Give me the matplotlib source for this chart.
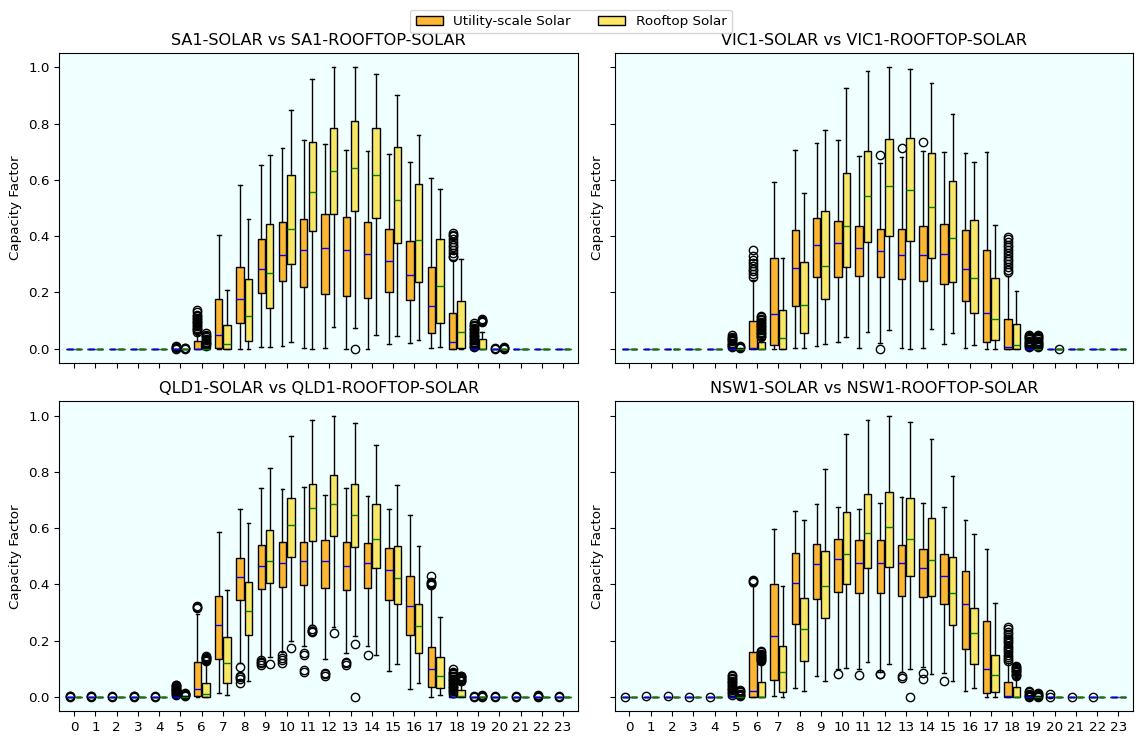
import numpy as np
import matplotlib
matplotlib.use('Agg')
import matplotlib.pyplot as plt
from matplotlib.patches import Patch
from matplotlib.colors import to_rgba

plt.rcParams['font.size'] = 9.7

# Hourly capacity factor box stats
hours = np.arange(24)
hour_labels = [str(h) for h in hours]

# ---- SA1 ----
sa1_util_q1 = [0, 0, 0, 0, 0, 0, 0, 0.003, 0.09, 0.197, 0.24, 0.218, 0.196, 0.189, 0.181, 0.2, 0.174, 0.057, 0, 0, 0, 0, 0, 0]
sa1_util_med = [0, 0, 0, 0, 0, 0, 0, 0.05, 0.178, 0.285, 0.334, 0.352, 0.357, 0.35, 0.335, 0.31, 0.263, 0.153, 0.025, 0, 0, 0, 0, 0]
sa1_util_q3 = [0, 0, 0, 0, 0, 0, 0.027, 0.178, 0.292, 0.391, 0.452, 0.461, 0.477, 0.469, 0.452, 0.425, 0.384, 0.292, 0.128, 0.01, 0, 0, 0, 0]
sa1_util_lo = [0, 0, 0, 0, 0, 0, 0, 0, 0, 0.005, 0.01, 0.004, 0.004, 0, 0, 0.015, 0.022, 0.004, 0, 0, 0, 0, 0, 0]
sa1_util_hi = [0, 0, 0, 0, 0, 0, 0.05, 0.403, 0.581, 0.652, 0.715, 0.742, 0.728, 0.707, 0.702, 0.693, 0.665, 0.605, 0.315, 0.01, 0, 0, 0, 0]
sa1_util_fliers = {
    5: [0.0, 0.002, 0.004, 0.006, 0.008],
    6: [0.06, 0.065, 0.07, 0.075, 0.08, 0.085, 0.09, 0.095, 0.1, 0.105, 0.11, 0.115, 0.12, 0.13, 0.137],
    18: [0.325, 0.33, 0.34, 0.35, 0.36, 0.37, 0.38, 0.39, 0.4, 0.405, 0.41],
    19: [0.005, 0.01, 0.015, 0.02, 0.025, 0.03, 0.035, 0.04, 0.045, 0.05, 0.055, 0.06, 0.065, 0.07, 0.075, 0.08, 0.085, 0.09],
    20: [0.0, 0.002]}

sa1_roof_q1 = [0, 0, 0, 0, 0, 0, 0, 0, 0.028, 0.146, 0.302, 0.418, 0.477, 0.491, 0.463, 0.374, 0.237, 0.09, 0.003, 0, 0, 0, 0, 0]
sa1_roof_med = [0, 0, 0, 0, 0, 0, 0, 0.015, 0.115, 0.269, 0.427, 0.557, 0.632, 0.643, 0.618, 0.527, 0.388, 0.222, 0.06, 0, 0, 0, 0, 0]
sa1_roof_q3 = [0, 0, 0, 0, 0, 0, 0.003, 0.083, 0.247, 0.445, 0.619, 0.735, 0.785, 0.808, 0.783, 0.718, 0.584, 0.389, 0.17, 0.035, 0, 0, 0, 0]
sa1_roof_lo = [0, 0, 0, 0, 0, 0, 0, 0, 0, 0.005, 0.025, 0, 0.078, 0.075, 0.05, 0.046, 0.03, 0.006, 0, 0, 0, 0, 0, 0]
sa1_roof_hi = [0, 0, 0, 0, 0, 0, 0.008, 0.208, 0.46, 0.69, 0.85, 0.957, 1.0, 1.0, 0.978, 0.903, 0.76, 0.567, 0.318, 0.06, 0, 0, 0, 0]
sa1_roof_fliers = {
    5: [0.0, 0.002, 0.004],
    6: [0.01, 0.015, 0.02, 0.025, 0.03, 0.035, 0.04, 0.045, 0.05, 0.055],
    13: [0.0],
    19: [0.095, 0.098, 0.1, 0.103, 0.105],
    20: [0.0, 0.002, 0.004, 0.006]}

# ---- VIC1 ----
vic1_util_q1 = [0, 0, 0, 0, 0, 0, 0, 0.012, 0.153, 0.256, 0.254, 0.26, 0.256, 0.246, 0.242, 0.23, 0.171, 0.025, 0, 0, 0, 0, 0, 0]
vic1_util_med = [0, 0, 0, 0, 0, 0, 0.003, 0.125, 0.288, 0.37, 0.374, 0.359, 0.349, 0.333, 0.333, 0.338, 0.282, 0.128, 0.005, 0, 0, 0, 0, 0]
vic1_util_q3 = [0, 0, 0, 0, 0, 0.002, 0.098, 0.324, 0.423, 0.463, 0.453, 0.437, 0.426, 0.426, 0.437, 0.444, 0.423, 0.352, 0.107, 0.002, 0, 0, 0, 0]
vic1_util_lo = [0, 0, 0, 0, 0, 0, 0, 0, 0.003, 0.01, 0.025, 0.003, 0.02, 0.003, 0.003, 0.018, 0.003, 0, 0, 0, 0, 0, 0, 0]
vic1_util_hi = [0, 0, 0, 0, 0, 0.004, 0.245, 0.591, 0.705, 0.73, 0.74, 0.685, 0.66, 0.682, 0.702, 0.7, 0.696, 0.7, 0.26, 0.004, 0, 0, 0, 0]
vic1_util_fliers = {
    5: [0.006, 0.01, 0.014, 0.018, 0.022, 0.026, 0.03, 0.034, 0.038, 0.042, 0.047],
    6: [0.255, 0.265, 0.275, 0.285, 0.295, 0.305, 0.315, 0.33, 0.35],
    12: [0.0, 0.687], 13: [0.715], 14: [0.735],
    18: [0.273, 0.28, 0.29, 0.3, 0.31, 0.32, 0.33, 0.34, 0.35, 0.36, 0.37, 0.38, 0.39, 0.397],
    19: [0.005, 0.009, 0.013, 0.017, 0.021, 0.025, 0.029, 0.033, 0.037, 0.041, 0.045, 0.05]}

vic1_roof_q1 = [0, 0, 0, 0, 0, 0, 0, 0, 0.057, 0.178, 0.292, 0.381, 0.399, 0.384, 0.324, 0.238, 0.126, 0.03, 0, 0, 0, 0, 0, 0]
vic1_roof_med = [0, 0, 0, 0, 0, 0, 0, 0.039, 0.155, 0.293, 0.435, 0.541, 0.577, 0.564, 0.502, 0.395, 0.25, 0.107, 0.012, 0, 0, 0, 0, 0]
vic1_roof_q3 = [0, 0, 0, 0, 0, 0, 0.024, 0.139, 0.308, 0.488, 0.625, 0.701, 0.744, 0.749, 0.696, 0.597, 0.458, 0.253, 0.089, 0.002, 0, 0, 0, 0]
vic1_roof_lo = [0, 0, 0, 0, 0, 0, 0, 0, 0.003, 0.018, 0.04, 0.06, 0.067, 0, 0.07, 0.055, 0.013, 0, 0, 0, 0, 0, 0, 0]
vic1_roof_hi = [0, 0, 0, 0, 0, 0.002, 0.035, 0.323, 0.555, 0.779, 0.925, 0.986, 1.0, 0.995, 0.943, 0.834, 0.662, 0.44, 0.205, 0.004, 0, 0, 0, 0]
vic1_roof_fliers = {
    5: [0.003, 0.006, 0.009],
    6: [0.041, 0.046, 0.051, 0.056, 0.061, 0.066, 0.071, 0.076, 0.081, 0.086, 0.091, 0.096, 0.101, 0.106, 0.112, 0.118],
    19: [0.005, 0.009, 0.013, 0.017, 0.021, 0.025, 0.029, 0.033, 0.037, 0.041, 0.045, 0.05],
    20: [0.0]}

# ---- QLD1 ----
qld1_util_q1 = [0, 0, 0, 0, 0, 0, 0.005, 0.135, 0.344, 0.383, 0.392, 0.397, 0.387, 0.379, 0.387, 0.346, 0.22, 0.035, 0, 0, 0, 0, 0, 0]
qld1_util_med = [0, 0, 0, 0, 0, 0, 0.028, 0.255, 0.426, 0.467, 0.475, 0.482, 0.482, 0.467, 0.475, 0.45, 0.323, 0.098, 0, 0, 0, 0, 0, 0]
qld1_util_q3 = [0, 0, 0, 0, 0, 0.003, 0.123, 0.357, 0.495, 0.541, 0.55, 0.55, 0.557, 0.55, 0.546, 0.528, 0.431, 0.178, 0.013, 0, 0, 0, 0, 0]
qld1_util_lo = [0, 0, 0, 0, 0, 0, 0, 0.015, 0.12, 0.14, 0.16, 0.18, 0.135, 0.155, 0.18, 0.093, 0.028, 0, 0, 0, 0, 0, 0, 0]
qld1_util_hi = [0, 0, 0, 0, 0, 0.005, 0.293, 0.585, 0.667, 0.742, 0.74, 0.745, 0.717, 0.742, 0.713, 0.667, 0.645, 0.39, 0.018, 0, 0, 0, 0, 0]
qld1_util_fliers = {
    0: [0.0, 0.002, 0.004], 1: [0.0, 0.002, 0.004], 2: [0.0, 0.003], 3: [0.0, 0.002, 0.004], 4: [0.0, 0.003],
    5: [0.008, 0.011, 0.014, 0.017, 0.02, 0.023, 0.026, 0.029, 0.032, 0.035, 0.038, 0.041, 0.044],
    6: [0.316, 0.319, 0.322],
    8: [0.05, 0.065, 0.07, 0.075, 0.107], 9: [0.115, 0.12, 0.125, 0.13], 10: [0.12, 0.13, 0.14, 0.15],
    11: [0.09, 0.095, 0.15, 0.157], 12: [0.073, 0.08, 0.085], 13: [0.115, 0.12, 0.125], 14: [0.15],
    17: [0.397, 0.4, 0.405, 0.41, 0.43],
    18: [0.015, 0.02, 0.025, 0.03, 0.035, 0.04, 0.045, 0.05, 0.055, 0.06, 0.065, 0.07, 0.075, 0.08, 0.085, 0.09, 0.1],
    19: [0.0, 0.002], 20: [0.0, 0.003], 21: [0.0, 0.002], 22: [0.0, 0.003, 0.005, 0.007], 23: [0.0, 0.003]}

qld1_roof_q1 = [0, 0, 0, 0, 0, 0, 0, 0.05, 0.22, 0.404, 0.496, 0.553, 0.571, 0.532, 0.457, 0.33, 0.155, 0.031, 0, 0, 0, 0, 0, 0]
qld1_roof_med = [0, 0, 0, 0, 0, 0, 0.01, 0.12, 0.305, 0.482, 0.61, 0.673, 0.685, 0.645, 0.56, 0.424, 0.252, 0.075, 0.003, 0, 0, 0, 0, 0]
qld1_roof_q3 = [0, 0, 0, 0, 0, 0.002, 0.05, 0.213, 0.41, 0.592, 0.706, 0.756, 0.787, 0.756, 0.684, 0.535, 0.33, 0.142, 0.025, 0, 0, 0, 0, 0]
qld1_roof_lo = [0, 0, 0, 0, 0, 0, 0, 0.007, 0.055, 0.142, 0.2, 0.255, 0.25, 0.215, 0.15, 0.117, 0.05, 0.007, 0, 0, 0, 0, 0, 0]
qld1_roof_hi = [0, 0, 0, 0, 0, 0.003, 0.12, 0.38, 0.617, 0.813, 0.929, 0.985, 1.0, 0.975, 0.897, 0.752, 0.535, 0.285, 0.045, 0, 0, 0, 0, 0]
qld1_roof_fliers = {
    5: [0.004, 0.006, 0.008, 0.01, 0.012, 0.015],
    6: [0.128, 0.131, 0.134, 0.137, 0.14, 0.143, 0.146],
    9: [0.118], 10: [0.175], 11: [0.23, 0.233, 0.236, 0.24], 12: [0.228], 13: [0.0, 0.188],
    18: [0.055, 0.058, 0.061, 0.064, 0.067, 0.07, 0.073, 0.076],
    19: [0.0, 0.002, 0.004, 0.006]}

# ---- NSW1 ----
nsw1_util_q1 = [0, 0, 0, 0, 0, 0, 0, 0.06, 0.26, 0.348, 0.372, 0.369, 0.369, 0.358, 0.355, 0.33, 0.17, 0.014, 0, 0, 0, 0, 0, 0]
nsw1_util_med = [0, 0, 0, 0, 0, 0, 0.02, 0.216, 0.404, 0.472, 0.49, 0.475, 0.475, 0.475, 0.457, 0.429, 0.33, 0.1, 0.003, 0, 0, 0, 0, 0]
nsw1_util_q3 = [0, 0, 0, 0, 0, 0.003, 0.16, 0.4, 0.511, 0.545, 0.56, 0.557, 0.557, 0.539, 0.527, 0.507, 0.447, 0.27, 0.052, 0.002, 0, 0, 0, 0]
nsw1_util_lo = [0, 0, 0, 0, 0, 0, 0, 0.003, 0.03, 0.076, 0.1, 0.1, 0.09, 0.09, 0.107, 0.085, 0.02, 0, 0, 0, 0, 0, 0, 0]
nsw1_util_hi = [0, 0, 0, 0, 0, 0.005, 0.395, 0.595, 0.66, 0.684, 0.674, 0.668, 0.688, 0.709, 0.69, 0.675, 0.63, 0.525, 0.12, 0.004, 0, 0, 0, 0]
nsw1_util_fliers = {
    0: [0.0], 1: [0.003], 2: [0.003], 3: [0.0], 4: [0.0],
    5: [0.008, 0.013, 0.018, 0.023, 0.028, 0.033, 0.038, 0.043, 0.048, 0.053, 0.058, 0.063, 0.068, 0.073, 0.079],
    6: [0.408, 0.411, 0.414],
    10: [0.08], 11: [0.078], 12: [0.08, 0.083], 13: [0.068, 0.075], 14: [0.065, 0.085], 15: [0.057],
    18: [0.126, 0.134, 0.142, 0.15, 0.158, 0.166, 0.174, 0.182, 0.19, 0.198, 0.206, 0.214, 0.222, 0.23, 0.24, 0.25],
    19: [0.0, 0.004, 0.008, 0.012, 0.016, 0.02], 20: [0.0, 0.01], 21: [0.0], 22: [0.0]}

nsw1_roof_q1 = [0, 0, 0, 0, 0, 0, 0, 0.018, 0.128, 0.28, 0.4, 0.457, 0.462, 0.429, 0.36, 0.255, 0.117, 0.018, 0, 0, 0, 0, 0, 0]
nsw1_roof_med = [0, 0, 0, 0, 0, 0, 0, 0.089, 0.242, 0.395, 0.508, 0.581, 0.604, 0.56, 0.485, 0.37, 0.227, 0.078, 0, 0, 0, 0, 0, 0]
nsw1_roof_q3 = [0, 0, 0, 0, 0, 0.002, 0.052, 0.181, 0.353, 0.518, 0.656, 0.72, 0.727, 0.706, 0.635, 0.496, 0.316, 0.149, 0.035, 0.002, 0, 0, 0, 0]
nsw1_roof_lo = [0, 0, 0, 0, 0, 0, 0, 0, 0.02, 0.055, 0.103, 0.123, 0.117, 0.099, 0.08, 0.055, 0.03, 0, 0, 0, 0, 0, 0, 0]
nsw1_roof_hi = [0, 0, 0, 0, 0, 0.004, 0.12, 0.393, 0.627, 0.81, 0.935, 0.985, 1.0, 0.977, 0.915, 0.785, 0.58, 0.335, 0.07, 0.003, 0, 0, 0, 0]
nsw1_roof_fliers = {
    5: [0.004, 0.008, 0.012, 0.016, 0.02, 0.025],
    6: [0.126, 0.13, 0.134, 0.138, 0.142, 0.146, 0.15, 0.154, 0.158, 0.162],
    13: [0.0],
    18: [0.075, 0.079, 0.083, 0.087, 0.091, 0.095, 0.099, 0.103, 0.107, 0.11],
    19: [0.0, 0.004, 0.008, 0.012, 0.015]}

UTIL_COLOR = to_rgba('orange', 0.8)
ROOF_COLOR = to_rgba('gold', 0.6)


def make_stats(q1, med, q3, lo, hi, fliers):
    stats = []
    for h in range(len(q1)):
        stats.append({'q1': q1[h], 'med': med[h], 'q3': q3[h],
                      'whislo': lo[h], 'whishi': hi[h],
                      'fliers': fliers.get(h, [])})
    return stats


panels = [
    ('SA1', make_stats(sa1_util_q1, sa1_util_med, sa1_util_q3, sa1_util_lo, sa1_util_hi, sa1_util_fliers),
     make_stats(sa1_roof_q1, sa1_roof_med, sa1_roof_q3, sa1_roof_lo, sa1_roof_hi, sa1_roof_fliers)),
    ('VIC1', make_stats(vic1_util_q1, vic1_util_med, vic1_util_q3, vic1_util_lo, vic1_util_hi, vic1_util_fliers),
     make_stats(vic1_roof_q1, vic1_roof_med, vic1_roof_q3, vic1_roof_lo, vic1_roof_hi, vic1_roof_fliers)),
    ('QLD1', make_stats(qld1_util_q1, qld1_util_med, qld1_util_q3, qld1_util_lo, qld1_util_hi, qld1_util_fliers),
     make_stats(qld1_roof_q1, qld1_roof_med, qld1_roof_q3, qld1_roof_lo, qld1_roof_hi, qld1_roof_fliers)),
    ('NSW1', make_stats(nsw1_util_q1, nsw1_util_med, nsw1_util_q3, nsw1_util_lo, nsw1_util_hi, nsw1_util_fliers),
     make_stats(nsw1_roof_q1, nsw1_roof_med, nsw1_roof_q3, nsw1_roof_lo, nsw1_roof_hi, nsw1_roof_fliers)),
]

fig, axes = plt.subplots(2, 2, figsize=(11.42, 7.43), dpi=100, sharex=True, sharey=True)
fig.subplots_adjust(left=0.0519, right=0.9924, top=0.9283, bottom=0.0431, wspace=0.0706, hspace=0.125)

for ax, (region, util_stats, roof_stats) in zip(axes.flat, panels):
    ax.set_facecolor('azure')
    ax.bxp(util_stats, positions=hours - 0.2, widths=0.35, patch_artist=True, manage_ticks=False,
           boxprops=dict(facecolor=UTIL_COLOR, edgecolor='black'),
           medianprops=dict(color='blue'))
    ax.bxp(roof_stats, positions=hours + 0.2, widths=0.35, patch_artist=True, manage_ticks=False,
           boxprops=dict(facecolor=ROOF_COLOR, edgecolor='black'),
           medianprops=dict(color='green'))
    ax.set_title(f'{region}-SOLAR vs {region}-ROOFTOP-SOLAR')
    ax.set_ylabel('Capacity Factor')
    ax.set_xticks(hours)
    ax.set_xticklabels(hour_labels)
    ax.set_xlim(-0.7, 23.7)
    ax.set_ylim(-0.05, 1.05)

handles = [Patch(facecolor=UTIL_COLOR, edgecolor='black'),
           Patch(facecolor=ROOF_COLOR, edgecolor='black')]
fig.legend(handles, ['Utility-scale Solar', 'Rooftop Solar'], loc='upper center', ncol=2,
           bbox_to_anchor=(0.5, 0.996))

fig.savefig('out.png')
